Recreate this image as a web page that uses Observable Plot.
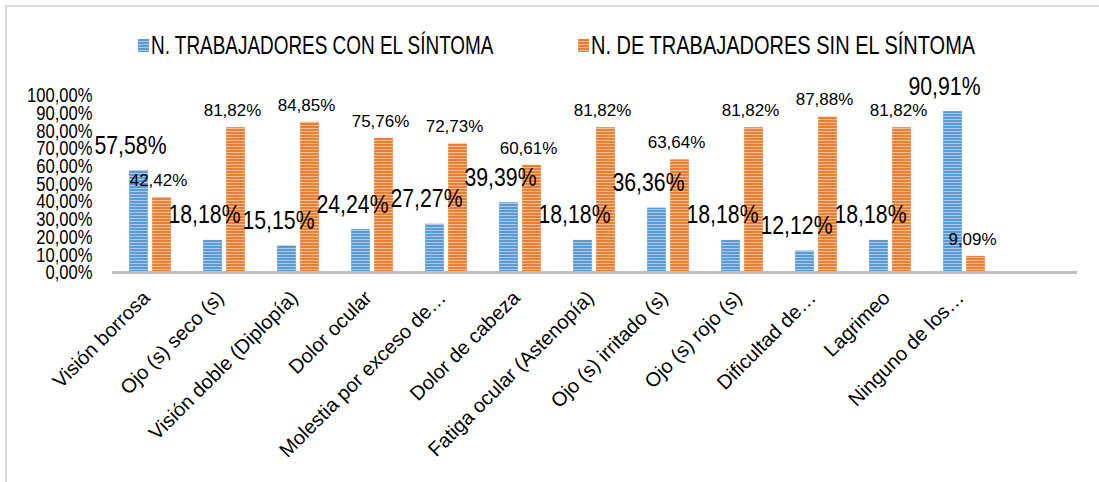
<!DOCTYPE html>
<html>
<head>
<meta charset="utf-8">
<script src="https://cdn.jsdelivr.net/npm/d3@7"></script>
<script src="https://cdn.jsdelivr.net/npm/@observablehq/plot@0.6"></script>
<style>
  body { margin: 0; background: #fff; }
  #wrap { position: relative; width: 1099px; height: 482px; overflow: hidden; font-family: "Liberation Sans", Arial, sans-serif; background: #fff; }
  #frame { position: absolute; left: 5px; top: 5px; width: 1300px; height: 700px; border-left: 2px solid #d9d9d9; border-top: 2px solid #d9d9d9; pointer-events: none; }
  #chart { position: absolute; left: 0; top: 0; }
  .leg { position: absolute; top: 31px; display: flex; align-items: center; color: #000; white-space: nowrap; }
  .leg span { display: inline-block; font-size: 25px; line-height: 28px; transform-origin: left center; }
  #l1 { transform: scaleX(0.757); }
  #l2 { transform: scaleX(0.80); }
  .sw { width: 11px; height: 13px; margin-right: 2px; }
  .sw.b { background: repeating-linear-gradient(to bottom, #5b9bd5 0 2px, #a9c9ec 2px 3px); }
  .sw.o { background: repeating-linear-gradient(to bottom, #ed7d31 0 2px, #f7bf95 2px 3px); }
  svg [aria-label^="x-axis"] text { font-size: 20px; }
  svg [aria-label^="y-axis"] text { font-size: 21px; }
</style>
</head>
<body>
<div id="wrap">
  <div id="frame"></div>
  <div id="chart"></div>
  <div class="leg" style="left:138px"><div class="sw b"></div><span id="l1"></span></div>
  <div class="leg" style="left:578px"><div class="sw o"></div><span id="l2"></span></div>
</div>
<script>
const categories = [
  "Visión borrosa",
  "Ojo (s) seco (s)",
  "Visión doble (Diplopía)",
  "Dolor ocular",
  "Molestia por exceso de…",
  "Dolor de cabeza",
  "Fatiga ocular (Astenopía)",
  "Ojo (s) irritado (s)",
  "Ojo (s) rojo (s)",
  "Dificultad de…",
  "Lagrimeo",
  "Ninguno de los…"
];
const conSintoma = [57.58, 18.18, 15.15, 24.24, 27.27, 39.39, 18.18, 36.36, 18.18, 12.12, 18.18, 90.91];
const sinSintoma = [42.42, 81.82, 84.85, 75.76, 72.73, 60.61, 81.82, 63.64, 81.82, 87.88, 81.82, 9.09];
const seriesNames = ["N. TRABAJADORES CON EL SÍNTOMA", "N. DE TRABAJADORES SIN EL SÍNTOMA"];
const yTicks = [0, 10, 20, 30, 40, 50, 60, 70, 80, 90, 100];

document.getElementById("l1").textContent = seriesNames[0];
document.getElementById("l2").textContent = seriesNames[1];

const blueRows = categories.map((c, i) => ({cat: c, v: conSintoma[i]}));
const orangeRows = categories.map((c, i) => ({cat: c, v: sinSintoma[i]}));
const fmt = v => v.toFixed(2).replace(".", ",") + "%";

const W = 1099, H = 482, ML = 112, MR = 22, MT = 95, MB = 210;
const bw = (W - ML - MR) / (categories.length + 1);
const half = bw / 2;

const plot = Plot.plot({
  width: W, height: H,
  marginLeft: ML, marginRight: MR, marginTop: MT, marginBottom: MB,
  style: {fontFamily: "'Liberation Sans', Arial, sans-serif", fontSize: "17px", color: "#000", background: "transparent", overflow: "visible"},
  x: {domain: [...categories, ""], padding: 0, tickSize: 0, tickRotate: -45, tickPadding: 22, label: null},
  y: {domain: [0, 100], ticks: yTicks, tickFormat: fmt, tickSize: 0, tickPadding: 20, label: null},
  marks: [
    Plot.barY(blueRows, {x: "cat", y: "v", fill: "url(#pBlue)", insetLeft: half - 22, insetRight: half + 3}),
    Plot.barY(orangeRows, {x: "cat", y: "v", fill: "url(#pOrange)", insetLeft: half + 1, insetRight: half - 20}),
    Plot.ruleY([0], {stroke: "#bfbfbf", strokeWidth: 3}),
    Plot.text(blueRows, {x: "cat", y: "v", text: d => fmt(d.v), dx: -21, dy: -25, fontSize: 25, fill: "#000"}),
    Plot.text(orangeRows, {x: "cat", y: "v", text: d => fmt(d.v), dx: 7, dy: -17, fontSize: 17, fill: "#000"})
  ]
});

const defs = d3.select(plot).insert("defs", ":first-child");
function pat(id, dark, light) {
  const p = defs.append("pattern").attr("id", id).attr("patternUnits", "userSpaceOnUse").attr("width", 4).attr("height", 3);
  p.append("rect").attr("width", 4).attr("height", 3).attr("fill", dark);
  p.append("rect").attr("y", 2).attr("width", 4).attr("height", 1).attr("fill", light);
}
pat("pBlue", "#5b9bd5", "#a9c9ec");
pat("pOrange", "#ed7d31", "#f7bf95");

// Horizontally condense selected texts (the reference uses narrow, tall glyphs)
function squeeze(nodes, sx) {
  nodes.forEach(t => {
    const tr = t.getAttribute("transform") || "";
    t.setAttribute("transform", `${tr} scale(${sx},1)`);
  });
}
squeeze(plot.querySelectorAll('[aria-label^="y-axis"] text'), 0.79);
squeeze(plot.querySelectorAll('g[font-size="25"] text'), 0.85);
plot.querySelectorAll('g[aria-label="x-axis tick label"]').forEach(g => {
  g.setAttribute("transform", (g.getAttribute("transform") || "") + " translate(-5,0)");
});

document.getElementById("chart").appendChild(plot);
</script>
</body>
</html>
